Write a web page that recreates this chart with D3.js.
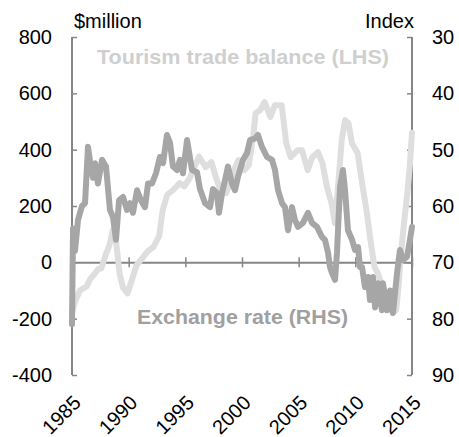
<!DOCTYPE html>
<html><head><meta charset="utf-8">
<script src="https://cdn.jsdelivr.net/npm/d3@7"></script>
<style>body{margin:0;background:#fff}svg{display:block}text{font-family:"Liberation Sans",Arial,sans-serif}</style>
</head><body><svg id="c" width="459" height="437"></svg>
<script>
const leftTicks = [-400,-200,0,200,400,600,800];
const rightTicks = [30,40,50,60,70,80,90];
const yearTicks = [1985,1990,1995,2000,2005,2010,2015];

const tourismYears = [1985.0,1985.26,1985.7,1986.3,1986.6,1987.0,1987.3,1987.6,1988.0,1988.3,1988.6,1988.9,1989.2,1989.5,1989.9,1990.3,1990.7,1991.2,1991.7,1992.2,1992.7,1993.0,1993.4,1993.9,1994.5,1994.9,1995.4,1995.8,1996.2,1996.8,1997.3,1997.7,1998.2,1998.6,1999.1,1999.4,1999.7,2000.2,2000.6,2001.0,2001.2,2001.6,2002.0,2002.5,2002.9,2003.5,2003.9,2004.3,2004.9,2005.3,2005.8,2006.2,2006.7,2007.1,2007.5,2007.9,2008.2,2008.5,2008.8,2009.1,2009.4,2009.7,2010.2,2010.6,2011.0,2011.4,2011.7,2012.0,2012.4,2012.8,2013.3,2013.6,2013.8,2014.0,2014.3,2014.6,2014.8,2015.0];
const tourismValues = [-180,-140,-100,-85,-60,-40,-25,-20,30,60,114,70,-40,-90,-110,-60,-10,15,40,55,95,185,240,256,281,270,300,338,375,338,356,302,245,245,300,338,363,327,345,450,530,540,569,516,558,558,423,373,398,398,327,373,391,352,267,210,139,281,434,505,494,423,388,281,180,60,-18,-40,-90,-130,-180,-170,-90,20,140,250,340,460];

const fxYears = [1985.0,1985.09,1985.26,1985.53,1985.88,1986.15,1986.41,1986.59,1986.85,1987.03,1987.29,1987.65,1988.0,1988.35,1988.62,1988.88,1989.15,1989.5,1989.85,1990.12,1990.38,1990.74,1991.09,1991.44,1991.71,1992.06,1992.41,1992.76,1993.03,1993.38,1993.65,1993.91,1994.26,1994.53,1994.79,1995.15,1995.59,1996.03,1996.29,1996.74,1997.18,1997.44,1997.79,1997.97,1998.24,1998.5,1998.76,1999.12,1999.38,1999.65,2000.09,2000.44,2000.71,2001.15,2001.41,2001.76,2002.21,2002.65,2002.91,2003.18,2003.53,2003.79,2004.06,2004.41,2004.68,2004.94,2005.38,2005.82,2006.18,2006.62,2007.06,2007.32,2007.59,2007.76,2007.94,2008.21,2008.38,2008.65,2008.91,2009.09,2009.35,2009.71,2009.97,2010.24,2010.41,2010.59,2010.85,2011.12,2011.29,2011.56,2011.74,2012.0,2012.35,2012.44,2012.79,2013.06,2013.32,2013.68,2013.94,2014.21,2014.56,2014.82,2015.0];
const fxValues = [81,64,68,62.5,60,59.5,49.5,52,55,52.4,56,51.8,53,60.7,62,66,59,58.4,60.7,59.5,61.2,57.2,59,60.2,56,56,54.2,51.3,52.4,47.4,48.8,53,53.6,51.8,54.2,48.3,53.6,54,57,59.5,60.2,57,57.7,61.2,57.7,55.4,53,56,57.2,54.8,51.8,50.6,48.3,48,47.4,49.5,51.3,51.8,53.6,57.2,59.5,60.2,64.3,60.2,62.5,63.7,63,61.2,63,63.7,65.5,66,68.3,70.8,71.9,73.1,68.3,56.6,53.6,57.2,64.3,66,67.8,67.3,70.8,70.8,74.4,72.6,76.7,72.6,78,73.7,78.5,73.7,78.5,75,79,71.9,67.8,69.6,69,66,63.7];

const svg = d3.select('#c');
const L = 72, R = 412, T = 37, B = 375;
const x = d3.scaleLinear().domain([1985,2015]).range([L,R]);
const yL = d3.scaleLinear().domain([-400,800]).range([B,T]);
const yR = d3.scaleLinear().domain([30,90]).range([T,B]);
const axisColor = '#868686';

// left axis
const gl = svg.append('g').attr('transform',`translate(${L},0)`)
  .call(d3.axisLeft(yL).tickValues(leftTicks).tickSize(-5).tickPadding(20).tickFormat(d=>String(d)));
// right axis
const gr = svg.append('g').attr('transform',`translate(${R},0)`)
  .call(d3.axisRight(yR).tickValues(rightTicks).tickSize(-5).tickPadding(20).tickFormat(d=>String(d)));
[gl,gr].forEach(g=>{
  g.select('.domain').remove();
  g.selectAll('line').attr('stroke',axisColor).attr('stroke-width',1.5);
  g.selectAll('text').attr('font-size',20).attr('fill','#000').style('font-family','"Liberation Sans",Arial,sans-serif');
});
svg.append('line').attr('x1',L).attr('x2',L).attr('y1',T).attr('y2',B).attr('stroke',axisColor).attr('stroke-width',2);
svg.append('line').attr('x1',R).attr('x2',R).attr('y1',T).attr('y2',B).attr('stroke',axisColor).attr('stroke-width',2);

// x axis at zero
const gx = svg.append('g').attr('transform',`translate(0,${yL(0)})`)
  .call(d3.axisBottom(x).tickValues(yearTicks).tickSize(0).tickFormat(''));
gx.select('.domain').attr('stroke',axisColor).attr('stroke-width',2);
gx.selectAll('.tick').append('line').attr('y1',-5).attr('y2',5).attr('stroke',axisColor).attr('stroke-width',1.5);

// x labels
svg.append('g').selectAll('text').data(yearTicks).join('text')
  .attr('transform',d=>`translate(${x(d)+10},${404}) rotate(-45)`)
  .attr('text-anchor','end').attr('font-size',20).attr('fill','#000').text(d=>d);

// titles
svg.append('text').attr('x',74).attr('y',28).attr('font-size',20).text('$million');
svg.append('text').attr('x',414).attr('y',28).attr('font-size',20).attr('text-anchor','end').text('Index');

// lines
const tourism = tourismYears.map((t,i)=>[t,tourismValues[i]]);
const fx = fxYears.map((t,i)=>[t,fxValues[i]]);
svg.append('path').datum(tourism).attr('fill','none').attr('stroke','#dedede').attr('stroke-width',6)
  .attr('stroke-linejoin','round').attr('stroke-linecap','round')
  .attr('d',d3.line().x(d=>x(d[0])).y(d=>yL(d[1])));
svg.append('path').datum(fx).attr('fill','none').attr('stroke','#a6a6a6').attr('stroke-width',6)
  .attr('stroke-linejoin','round').attr('stroke-linecap','round')
  .attr('d',d3.line().x(d=>x(d[0])).y(d=>yR(d[1])));

// series labels
svg.append('text').attr('x',97).attr('y',64).attr('font-size',20).attr('font-weight','bold')
  .attr('fill','#cfcfcf').attr('textLength',292).attr('lengthAdjust','spacingAndGlyphs').text('Tourism trade balance (LHS)');
svg.append('text').attr('x',137).attr('y',324).attr('font-size',20).attr('font-weight','bold')
  .attr('fill','#a0a0a0').attr('textLength',211).attr('lengthAdjust','spacingAndGlyphs').text('Exchange rate (RHS)');
</script></body></html>
